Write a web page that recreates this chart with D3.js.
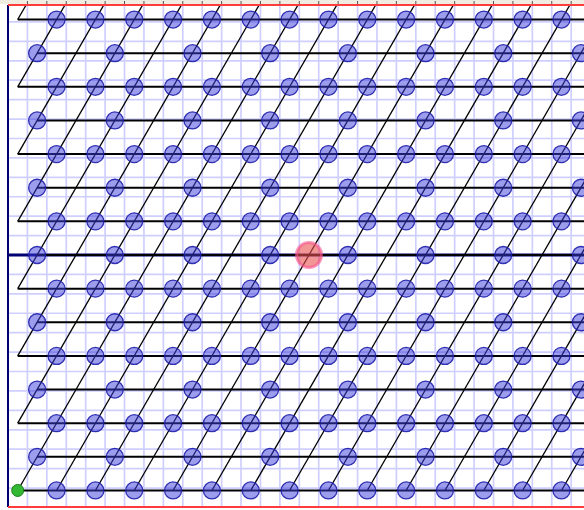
<!DOCTYPE html>
<html>
<head>
<meta charset="utf-8">
<script src="https://cdn.jsdelivr.net/npm/d3@7"></script>
<style>
  html, body { margin: 0; padding: 0; background: #ffffff; }
  svg { display: block; }
</style>
</head>
<body>
<svg id="chart" width="584" height="510"></svg>
<script>
// ---- data (lattice in grid units; point (m, b): x = 0.5 + m, y = (b - 7) * sqrt(3)) ----
const rowIndices = [0, 1, 2, 3, 4, 5, 6, 7, 8, 9, 10, 11, 12, 13, 14];
const evenRowCircleCols = [2, 4, 6, 8, 10, 12, 14, 16, 18, 20, 22, 24, 26, 28];
const oddRowCircleCols = [1, 5, 9, 13, 17, 21, 25, 29];
const bottomLineStarts = [0, 2, 4, 6, 8, 10, 12, 14, 16, 18, 20, 22, 24, 26, 28];
const leftLineStartRows = [2, 4, 6, 8, 10, 12, 14];
const highlightPoint = { m: 15, b: 7 };
const originPoint = { m: 0, b: 0 };
const xExtent = [0, 30];
const yExtent = [-13, 13];

(function () {
const W = 584, H = 510;
const S3 = Math.sqrt(3);
const svg = d3.select("#chart");

const x = d3.scaleLinear().domain([0, 30]).range([8, 8 + 30 * 19.42]);
const y = d3.scaleLinear().domain([0, 13]).range([255, 255 - 13 * 19.42]);
const px = m => x(0.5 + m);
const py = b => y((b - 7) * S3);

const yTop = 5, yBottom = 507;

svg.append("defs").append("clipPath").attr("id", "plot")
  .append("rect").attr("x", 8).attr("y", yTop).attr("width", W - 8).attr("height", yBottom - yTop);

const g = svg.append("g").attr("clip-path", "url(#plot)");

// grid
const gridX = d3.range(xExtent[0], xExtent[1] + 1);
const gridY = d3.range(yExtent[0], yExtent[1] + 1);
g.append("g").selectAll("line").data(gridX).join("line")
  .attr("x1", d => x(d)).attr("x2", d => x(d))
  .attr("y1", 0).attr("y2", H)
  .attr("stroke", "#cfcfff").attr("stroke-width", 1.7);
g.append("g").selectAll("line").data(gridY).join("line")
  .attr("x1", 0).attr("x2", W)
  .attr("y1", d => y(d)).attr("y2", d => y(d))
  .attr("stroke", "#cfcfff").attr("stroke-width", 1.7);

// x axis (navy)
g.append("line").attr("x1", 8).attr("x2", W).attr("y1", y(0)).attr("y2", y(0))
  .attr("stroke", "#000070").attr("stroke-width", 3);

// horizontal lattice lines
g.append("g").selectAll("line").data(rowIndices).join("line")
  .attr("x1", b => px(b % 2 === 0 ? 0 : 1))
  .attr("x2", W + 10)
  .attr("y1", b => py(b)).attr("y2", b => py(b))
  .attr("stroke", "#000").attr("stroke-width", 2);

// slanted lattice lines
const slantStarts = bottomLineStarts.map(m => ({ m, b: 0 }))
  .concat(leftLineStartRows.map(b => ({ m: 0, b })));
g.append("g").selectAll("line").data(slantStarts).join("line")
  .attr("x1", d => px(d.m)).attr("y1", d => py(d.b))
  .attr("x2", d => px(d.m + (15 - d.b))).attr("y2", d => py(15))
  .attr("stroke", "#000").attr("stroke-width", 1.3);

// lattice circles
const circlePts = [];
rowIndices.forEach(b => {
  const cols = b % 2 === 0 ? evenRowCircleCols : oddRowCircleCols;
  cols.forEach(m => circlePts.push({ m, b }));
});
g.append("g").selectAll("circle").data(circlePts).join("circle")
  .attr("cx", d => px(d.m)).attr("cy", d => py(d.b)).attr("r", 8.5)
  .attr("fill", "rgba(60,60,220,0.5)")
  .attr("stroke", "rgba(30,30,170,0.9)").attr("stroke-width", 1.3);

// highlighted (red) point
g.append("circle").attr("cx", px(highlightPoint.m)).attr("cy", py(highlightPoint.b)).attr("r", 12.5)
  .attr("fill", "rgba(235,80,80,0.6)")
  .attr("stroke", "rgba(245,80,140,0.6)").attr("stroke-width", 3);

// origin (green) point
g.append("circle").attr("cx", px(originPoint.m)).attr("cy", py(originPoint.b)).attr("r", 6)
  .attr("fill", "#33b833").attr("stroke", "#1a801a").attr("stroke-width", 1);

// top strip
svg.append("rect").attr("x", 0).attr("y", 0).attr("width", W).attr("height", yTop - 1)
  .attr("fill", "#f0ece2");
svg.append("g").selectAll("line").data(gridX.slice(1)).join("line")
  .attr("x1", d => x(d)).attr("x2", d => x(d)).attr("y1", 1).attr("y2", 4)
  .attr("stroke", "#555").attr("stroke-width", 1);

// y axis (navy)
svg.append("line").attr("x1", 8).attr("x2", 8).attr("y1", yTop).attr("y2", yBottom)
  .attr("stroke", "#000070").attr("stroke-width", 2);

// red boundaries
svg.append("line").attr("x1", 8).attr("x2", W).attr("y1", yTop).attr("y2", yTop)
  .attr("stroke", "#ff3b3b").attr("stroke-width", 2);
svg.append("line").attr("x1", 8).attr("x2", W).attr("y1", yBottom).attr("y2", yBottom)
  .attr("stroke", "#ff3b3b").attr("stroke-width", 2);
})();
</script>
</body>
</html>
